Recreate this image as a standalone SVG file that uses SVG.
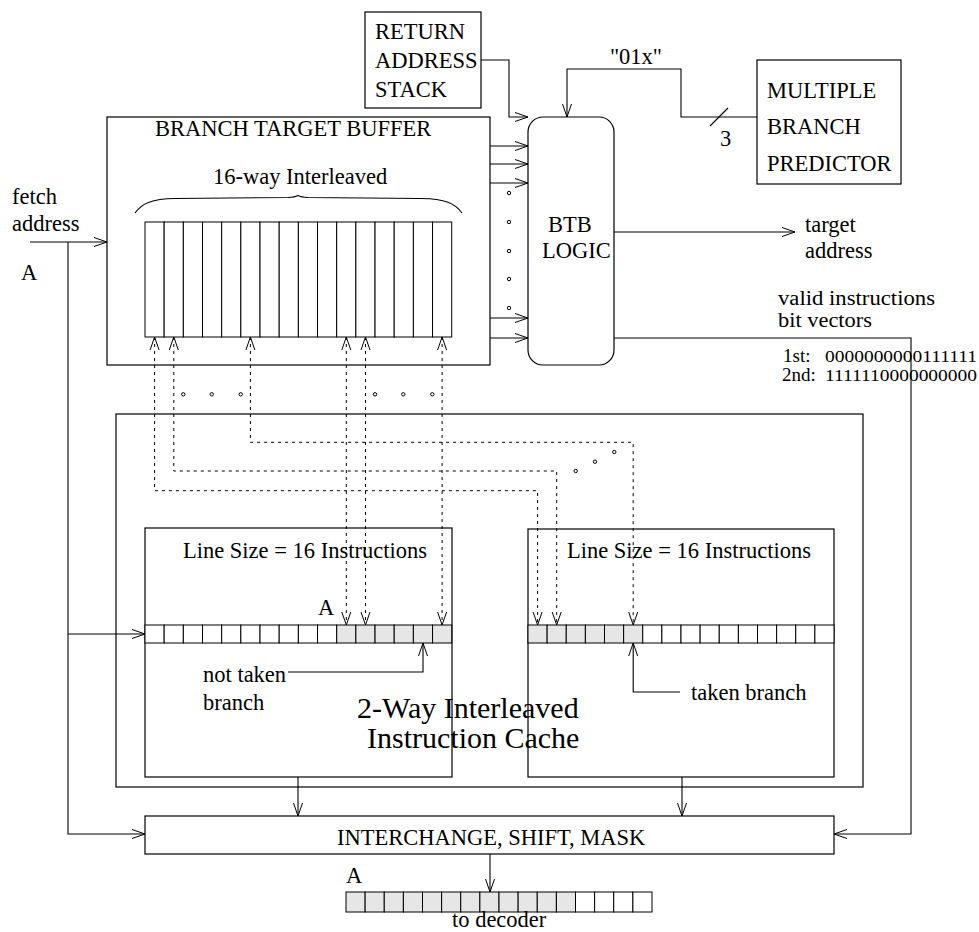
<svg xmlns="http://www.w3.org/2000/svg" width="979" height="932" viewBox="0 0 979 932">
<style>
  text { font-family: "Liberation Serif", "Times New Roman", serif; font-size: 22.5px; fill: #000; }
  .big { font-size: 30px; }
  .lbl { font-size: 19px; }
  .vb { font-size: 20.5px; }
  .bits { font-size: 16px; }
  .box { fill: #fff; stroke: #000; stroke-width: 1.2; }
  .cell { fill: #fff; stroke: #000; stroke-width: 1; }
  .sh { fill: #e6e6e6; stroke: #000; stroke-width: 1; }
  .ln { fill: none; stroke: #000; stroke-width: 1.1; }
  .dot { fill: none; stroke: #000; stroke-width: 1; stroke-dasharray: 3 4; }
  .o { fill: #fff; stroke: #000; stroke-width: 1; }
</style>
<defs>
  <marker id="ah" viewBox="-14 -6 15 12" refX="0" refY="0" markerWidth="15" markerHeight="12" markerUnits="userSpaceOnUse" orient="auto-start-reverse">
    <path d="M-13,-4.5 L0,0 L-13,4.5" fill="none" stroke="#000" stroke-width="1"/>
  </marker>
</defs>

<g id="ras">
  <rect class="box" x="365" y="12" width="116" height="96"/>
  <text x="375" y="39">RETURN</text>
  <text x="375" y="68">ADDRESS</text>
  <text x="375" y="97">STACK</text>
</g>

<g id="mbp">
  <rect class="box" x="757" y="60" width="144" height="124"/>
  <text x="767" y="98">MULTIPLE</text>
  <text x="767" y="134">BRANCH</text>
  <text x="767" y="171">PREDICTOR</text>
</g>

<g id="btb">
  <rect class="box" x="107" y="117" width="383" height="248"/>
  <text x="155" y="136">BRANCH TARGET BUFFER</text>
  <text x="213" y="184">16-way Interleaved</text>
  <path class="ln" d="M135,213 C142,203 152,199 175,198.5 L288,197.5 Q295,197.2 298,195.5 Q301,197.2 308,197.5 L421,198.5 C445,199 455,203 462,213"/>
  <g id="btb-array">
    <rect class="cell" x="145" y="222" width="19.17" height="115"/>
    <rect class="cell" x="164.17" y="222" width="19.17" height="115"/>
    <rect class="cell" x="183.34" y="222" width="19.17" height="115"/>
    <rect class="cell" x="202.51" y="222" width="19.17" height="115"/>
    <rect class="cell" x="221.68" y="222" width="19.17" height="115"/>
    <rect class="cell" x="240.85" y="222" width="19.17" height="115"/>
    <rect class="cell" x="260.02" y="222" width="19.17" height="115"/>
    <rect class="cell" x="279.19" y="222" width="19.17" height="115"/>
    <rect class="cell" x="298.36" y="222" width="19.17" height="115"/>
    <rect class="cell" x="317.53" y="222" width="19.17" height="115"/>
    <rect class="cell" x="336.7" y="222" width="19.17" height="115"/>
    <rect class="cell" x="355.87" y="222" width="19.17" height="115"/>
    <rect class="cell" x="375.04" y="222" width="19.17" height="115"/>
    <rect class="cell" x="394.21" y="222" width="19.17" height="115"/>
    <rect class="cell" x="413.38" y="222" width="19.17" height="115"/>
    <rect class="cell" x="432.55" y="222" width="19.17" height="115"/>
  </g>
</g>

<g id="btb-logic">
  <rect class="box" x="528" y="117" width="86" height="248" rx="15" ry="15"/>
  <text x="548" y="232">BTB</text>
  <text x="542" y="258">LOGIC</text>
</g>

<g id="icache">
  <rect class="box" x="116" y="414" width="747" height="373"/>
  <g id="cache-left">
    <rect class="box" x="145" y="528" width="307" height="249"/>
    <text x="183" y="558">Line Size = 16 Instructions</text>
    <rect class="cell" x="145" y="625" width="19.17" height="18"/>
    <rect class="cell" x="164.17" y="625" width="19.17" height="18"/>
    <rect class="cell" x="183.34" y="625" width="19.17" height="18"/>
    <rect class="cell" x="202.51" y="625" width="19.17" height="18"/>
    <rect class="cell" x="221.68" y="625" width="19.17" height="18"/>
    <rect class="cell" x="240.85" y="625" width="19.17" height="18"/>
    <rect class="cell" x="260.02" y="625" width="19.17" height="18"/>
    <rect class="cell" x="279.19" y="625" width="19.17" height="18"/>
    <rect class="cell" x="298.36" y="625" width="19.17" height="18"/>
    <rect class="cell" x="317.53" y="625" width="19.17" height="18"/>
    <rect class="sh" x="336.7" y="625" width="19.17" height="18"/>
    <rect class="sh" x="355.87" y="625" width="19.17" height="18"/>
    <rect class="sh" x="375.04" y="625" width="19.17" height="18"/>
    <rect class="sh" x="394.21" y="625" width="19.17" height="18"/>
    <rect class="sh" x="413.38" y="625" width="19.17" height="18"/>
    <rect class="sh" x="432.55" y="625" width="19.17" height="18"/>
    <text x="318" y="615">A</text>
    <text x="203" y="682">not taken</text>
    <text x="203" y="710">branch</text>
  </g>
  <g id="cache-right">
    <rect class="box" x="528" y="529" width="306" height="248"/>
    <text x="567" y="558">Line Size = 16 Instructions</text>
    <rect class="sh" x="528" y="625" width="19.125" height="18"/>
    <rect class="sh" x="547.13" y="625" width="19.125" height="18"/>
    <rect class="sh" x="566.25" y="625" width="19.125" height="18"/>
    <rect class="sh" x="585.38" y="625" width="19.125" height="18"/>
    <rect class="sh" x="604.5" y="625" width="19.125" height="18"/>
    <rect class="sh" x="623.63" y="625" width="19.125" height="18"/>
    <rect class="cell" x="642.75" y="625" width="19.125" height="18"/>
    <rect class="cell" x="661.88" y="625" width="19.125" height="18"/>
    <rect class="cell" x="681" y="625" width="19.125" height="18"/>
    <rect class="cell" x="700.13" y="625" width="19.125" height="18"/>
    <rect class="cell" x="719.25" y="625" width="19.125" height="18"/>
    <rect class="cell" x="738.38" y="625" width="19.125" height="18"/>
    <rect class="cell" x="757.5" y="625" width="19.125" height="18"/>
    <rect class="cell" x="776.63" y="625" width="19.125" height="18"/>
    <rect class="cell" x="795.75" y="625" width="19.125" height="18"/>
    <rect class="cell" x="814.88" y="625" width="19.125" height="18"/>
    <text x="691" y="700">taken branch</text>
  </g>
  <text class="big" x="357" y="718">2-Way Interleaved</text>
  <text class="big" x="367" y="748">Instruction Cache</text>
</g>

<g id="ism">
  <rect class="box" x="145" y="816" width="689" height="38"/>
  <text x="337" y="845">INTERCHANGE, SHIFT, MASK</text>
</g>

<g id="decoder-out">
  <text x="346" y="883">A</text>
  <rect class="sh" x="346" y="892" width="19.125" height="20"/>
  <rect class="sh" x="365.13" y="892" width="19.125" height="20"/>
  <rect class="sh" x="384.25" y="892" width="19.125" height="20"/>
  <rect class="sh" x="403.38" y="892" width="19.125" height="20"/>
  <rect class="sh" x="422.5" y="892" width="19.125" height="20"/>
  <rect class="sh" x="441.63" y="892" width="19.125" height="20"/>
  <rect class="sh" x="460.75" y="892" width="19.125" height="20"/>
  <rect class="sh" x="479.88" y="892" width="19.125" height="20"/>
  <rect class="sh" x="499" y="892" width="19.125" height="20"/>
  <rect class="sh" x="518.13" y="892" width="19.125" height="20"/>
  <rect class="sh" x="537.25" y="892" width="19.125" height="20"/>
  <rect class="sh" x="556.38" y="892" width="19.125" height="20"/>
  <rect class="cell" x="575.5" y="892" width="19.125" height="20"/>
  <rect class="cell" x="594.63" y="892" width="19.125" height="20"/>
  <rect class="cell" x="613.75" y="892" width="19.125" height="20"/>
  <rect class="cell" x="632.88" y="892" width="19.125" height="20"/>
  <text x="452" y="927">to decoder</text>
</g>

<g id="labels">
  <text x="12" y="204">fetch</text>
  <text x="12" y="231">address</text>
  <text x="21" y="280">A</text>
  <text x="636" y="64" text-anchor="middle">"01x"</text>
  <text x="720" y="146">3</text>
  <text x="805" y="232">target</text>
  <text x="805" y="258">address</text>
  <text class="vb" x="778" y="305" textLength="157" lengthAdjust="spacingAndGlyphs">valid instructions</text>
  <text class="vb" x="778" y="327" textLength="94" lengthAdjust="spacingAndGlyphs">bit vectors</text>
  <text class="lbl" x="783" y="362">1st:</text>
  <text class="bits" x="825" y="362" textLength="152" lengthAdjust="spacingAndGlyphs">0000000000111111</text>
  <text class="lbl" x="782" y="381">2nd:</text>
  <text class="bits" x="825" y="381" textLength="152" lengthAdjust="spacingAndGlyphs">1111110000000000</text>
</g>

<g id="connectors">
  <path class="ln" d="M30,242 H107" marker-end="url(#ah)"/>
  <path class="ln" d="M68,242 V834 H145" marker-end="url(#ah)"/>
  <path class="ln" d="M68,634 H145" marker-end="url(#ah)"/>
  <path class="ln" d="M481,60 H509 V117 H528" marker-end="url(#ah)"/>
  <path class="ln" d="M757,117 H681 V69 H567 V117" marker-end="url(#ah)"/>
  <path class="ln" d="M710,126 L728,108"/>
  <path class="ln" d="M490,146 H528" marker-end="url(#ah)"/>
  <path class="ln" d="M490,164 H528" marker-end="url(#ah)"/>
  <path class="ln" d="M490,183 H528" marker-end="url(#ah)"/>
  <path class="ln" d="M490,318 H528" marker-end="url(#ah)"/>
  <path class="ln" d="M490,338 H528" marker-end="url(#ah)"/>
  <path class="ln" d="M614,232 H795" marker-end="url(#ah)"/>
  <path class="ln" d="M614,338 H911 V834 H834" marker-end="url(#ah)"/>
  <path class="ln" d="M298,777 V816" marker-end="url(#ah)"/>
  <path class="ln" d="M682,777 V816" marker-end="url(#ah)"/>
  <path class="ln" d="M490,854 V892" marker-end="url(#ah)"/>
  <path class="ln" d="M288,672 H423 V643" marker-end="url(#ah)"/>
  <path class="ln" d="M680,692 H633.2 V643" marker-end="url(#ah)"/>
  <path class="dot" d="M154.6,337 V490.7 H537.6 V625" marker-start="url(#ah)" marker-end="url(#ah)"/>
  <path class="dot" d="M173.8,337 V471 H556.7 V625" marker-start="url(#ah)" marker-end="url(#ah)"/>
  <path class="dot" d="M250.4,337 V442.3 H633.2 V625" marker-start="url(#ah)" marker-end="url(#ah)"/>
  <path class="dot" d="M346.3,337 V625" marker-start="url(#ah)" marker-end="url(#ah)"/>
  <path class="dot" d="M365.5,337 V625" marker-start="url(#ah)" marker-end="url(#ah)"/>
  <path class="dot" d="M442.1,337 V625" marker-start="url(#ah)" marker-end="url(#ah)"/>
  <g id="ellipsis">
    <circle class="o" cx="509" cy="193" r="1.7"/>
    <circle class="o" cx="509" cy="222" r="1.7"/>
    <circle class="o" cx="509" cy="251" r="1.7"/>
    <circle class="o" cx="509" cy="279" r="1.7"/>
    <circle class="o" cx="509" cy="308" r="1.7"/>
    <circle class="o" cx="183.3" cy="394.3" r="1.7"/>
    <circle class="o" cx="211.7" cy="394.3" r="1.7"/>
    <circle class="o" cx="240.7" cy="394.3" r="1.7"/>
    <circle class="o" cx="375" cy="394.3" r="1.7"/>
    <circle class="o" cx="403.3" cy="394.3" r="1.7"/>
    <circle class="o" cx="432.3" cy="394.3" r="1.7"/>
    <circle class="o" cx="575.7" cy="471" r="1.7"/>
    <circle class="o" cx="595" cy="461.7" r="1.7"/>
    <circle class="o" cx="614.3" cy="452" r="1.7"/>
  </g>
</g>
</svg>
